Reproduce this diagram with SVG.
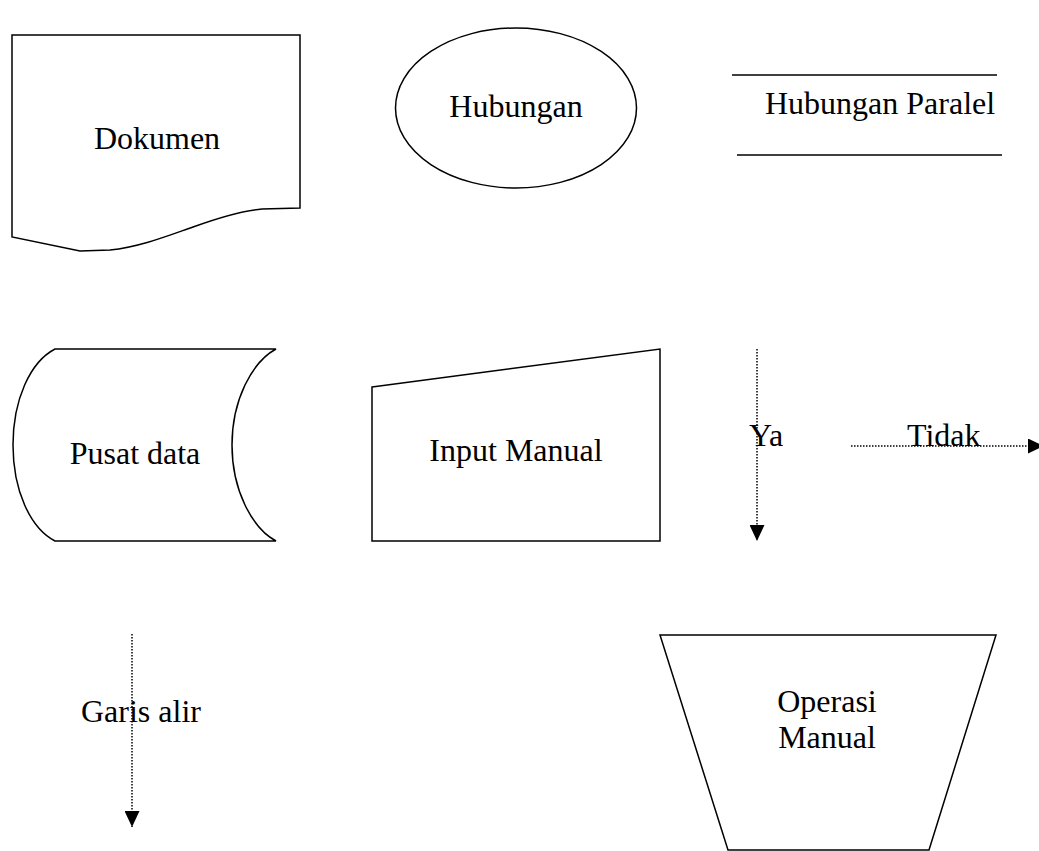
<svg xmlns="http://www.w3.org/2000/svg" width="1039" height="851" viewBox="0 0 1039 851">
<style>
.s{fill:#fff;stroke:#000;stroke-width:1.5}
.l{fill:none;stroke:#000;stroke-width:1.5}
.d{fill:none;stroke:#000;stroke-width:1.5;stroke-dasharray:1.5 1.5}
.t{font-family:"Liberation Serif","Times New Roman",serif;font-size:32px;fill:#000}
.m{text-anchor:middle}
</style>
<defs>
<marker id="ah" viewBox="0 0 16 15" refX="16" refY="7.5" markerWidth="16" markerHeight="15" markerUnits="userSpaceOnUse" orient="auto">
<path d="M0,0 L16,7.5 L0,15 Z" fill="#000"/>
</marker>
</defs>
<rect width="1039" height="851" fill="#fff"/>
<g id="dokumen">
<path class="s" d="M12,35 H300 V208 L262,209 C240,211 215,219 193,227 C170,235 140,247 110,250 L80,251 L12,237 Z"/>
<text class="t m" x="157" y="149">Dokumen</text>
</g>
<g id="hubungan">
<ellipse class="s" cx="516" cy="108" rx="120.5" ry="80"/>
<text class="t m" x="516" y="117">Hubungan</text>
</g>
<g id="hubungan-paralel">
<line class="l" x1="732" y1="75" x2="997" y2="75"/>
<line class="l" x1="737" y1="155" x2="1002" y2="155"/>
<text class="t" x="765" y="114">Hubungan Paralel</text>
</g>
<g id="pusat-data">
<path class="s" d="M276,349 H55 C30,362 13,400 13,445 C13,490 30,528 55,541 H276 C252,528 232,490 232,445 C232,400 252,362 276,349 Z"/>
<text class="t m" x="135" y="464">Pusat data</text>
</g>
<g id="input-manual">
<path class="s" d="M372,387 L660,349 V541 H372 Z"/>
<text class="t m" x="516" y="461">Input Manual</text>
</g>
<g id="operasi-manual">
<path class="s" d="M660,635 H996 L929,850 H728 Z"/>
<text class="t m" x="827" y="712">Operasi</text>
<text class="t m" x="827" y="748">Manual</text>
</g>
<g id="connectors">
<line class="d" x1="757" y1="349" x2="757" y2="541" marker-end="url(#ah)"/>
<line class="d" x1="851" y1="446" x2="1044" y2="446" marker-end="url(#ah)"/>
<line class="d" x1="132" y1="634" x2="132" y2="827" marker-end="url(#ah)"/>
</g>
<g id="labels">
<text class="t" x="749" y="446">Ya</text>
<text class="t" x="907" y="446">Tidak</text>
<text class="t" x="81" y="722">Garis alir</text>
</g>
</svg>
